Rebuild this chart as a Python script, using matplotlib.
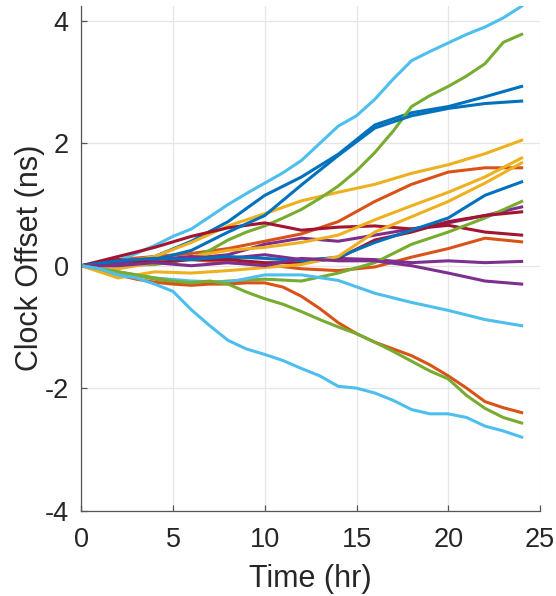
import numpy as np
import matplotlib
matplotlib.use("Agg")
import matplotlib.pyplot as plt

plt.rcParams["font.family"] = ["Liberation Sans", "DejaVu Sans"]
plt.rcParams["axes.unicode_minus"] = False

# MATLAB default colour order
colors = ["#0072BD", "#D95319", "#EDB120", "#7E2F8E", "#77AC30", "#4DBEEE", "#A2142F"]

# clock offset runs (ns); short runs are sampled every 2 h, long ones every hour
t_2h = [0, 2, 4, 6, 8, 10, 12, 14, 16, 18, 20, 22, 24]
t_1h = list(range(25))

blue_a = [0, 0.05, 0.15, 0.40, 0.72, 1.15, 1.45, 1.82, 2.30, 2.50, 2.60, 2.76, 2.93]
blue_b = [0, 0.02, 0.10, 0.25, 0.55, 0.82, 1.32, 1.80, 2.25, 2.45, 2.57, 2.65, 2.69]
blue_c = [0, 0.08, 0.12, 0.10, 0.15, 0.12, 0.08, 0.14, 0.38, 0.58, 0.78, 1.15, 1.37]
orange_a = [0, 0.10, 0.15, 0.20, 0.28, 0.40, 0.52, 0.72, 1.05, 1.33, 1.53, 1.60, 1.60]
orange_b = [0, 0.08, 0.12, 0.10, 0.05, 0.02, -0.05, -0.08, -0.02, 0.14, 0.28, 0.45, 0.39]
orange_c = [0, -0.08, -0.15, -0.22, -0.27, -0.30, -0.32, -0.30, -0.30, -0.28, -0.28, -0.35, -0.50,
            -0.70, -0.93, -1.11, -1.25, -1.36, -1.47, -1.62, -1.80, -2.00, -2.22, -2.32, -2.40]
yellow_a = [0, 0.05, 0.15, 0.38, 0.65, 0.85, 1.06, 1.20, 1.33, 1.51, 1.65, 1.83, 2.05]
yellow_b = [0, -0.05, 0.05, 0.15, 0.25, 0.30, 0.38, 0.50, 0.75, 0.98, 1.20, 1.45, 1.76]
yellow_c = [0, -0.20, -0.10, -0.12, -0.08, -0.03, 0.02, 0.15, 0.55, 0.80, 1.05, 1.35, 1.68]
purple_a = [0, 0.03, 0.08, 0.12, 0.18, 0.35, 0.45, 0.40, 0.50, 0.60, 0.70, 0.82, 0.96]
purple_b = [0, 0.05, 0.10, 0.15, 0.12, 0.18, 0.10, 0.12, 0.10, 0.05, 0.08, 0.05, 0.07]
purple_c = [0, 0.00, 0.05, 0.00, 0.05, 0.00, 0.12, 0.08, 0.08, 0.00, -0.12, -0.25, -0.30]
green_a = [0, 0.00, 0.00, 0.01, 0.02, 0.06, 0.12, 0.25, 0.42, 0.55, 0.65, 0.78, 0.92,
           1.10, 1.30, 1.55, 1.85, 2.20, 2.60, 2.78, 2.93, 3.10, 3.30, 3.65, 3.78]
green_b = [0, -0.10, -0.22, -0.30, -0.25, -0.22, -0.25, -0.12, 0.05, 0.35, 0.55, 0.78, 1.05]
green_c = [0, -0.05, -0.10, -0.15, -0.20, -0.25, -0.28, -0.25, -0.30, -0.43, -0.54, -0.63, -0.75,
           -0.88, -1.00, -1.11, -1.25, -1.40, -1.56, -1.72, -1.85, -2.12, -2.33, -2.48, -2.57]
cyan_a = [0, 0.03, 0.08, 0.20, 0.33, 0.48, 0.60, 0.80, 1.00, 1.18, 1.35, 1.52, 1.72,
          2.00, 2.28, 2.45, 2.72, 3.05, 3.35, 3.50, 3.64, 3.78, 3.90, 4.05, 4.24]
cyan_b = [0, -0.10, -0.20, -0.25, -0.27, -0.15, -0.15, -0.24, -0.45, -0.60, -0.73, -0.88, -0.98]
cyan_c = [0, -0.05, -0.15, -0.20, -0.30, -0.42, -0.72, -0.98, -1.22, -1.36, -1.45, -1.55, -1.68,
          -1.80, -1.97, -2.00, -2.08, -2.20, -2.35, -2.42, -2.42, -2.48, -2.62, -2.70, -2.80]
red_a = [0, 0.15, 0.30, 0.48, 0.62, 0.70, 0.58, 0.63, 0.65, 0.60, 0.66, 0.55, 0.50]
red_b = [0, 0.10, 0.05, 0.10, 0.10, 0.05, 0.05, 0.12, 0.42, 0.55, 0.72, 0.82, 0.88]

runs = [
    (blue_a, 0), (orange_a, 1), (yellow_a, 2), (purple_a, 3), (green_a, 4), (cyan_a, 5), (red_a, 6),
    (blue_b, 0), (orange_b, 1), (yellow_b, 2), (purple_b, 3), (green_b, 4), (cyan_b, 5), (red_b, 6),
    (blue_c, 0), (orange_c, 1), (yellow_c, 2), (purple_c, 3), (green_c, 4), (cyan_c, 5),
]

fig = plt.figure(figsize=(5.56, 5.96), dpi=100)
ax = fig.add_axes([0.1462, 0.1434, 0.825, 0.8472])

for vals, ci in runs:
    t = t_1h if len(vals) == 25 else t_2h
    ax.plot(t, vals, color=colors[ci], lw=2.2)

ax.set_xlim(0, 25)
ax.set_ylim(-4, 4.25)
ax.set_xticks([0, 5, 10, 15, 20, 25])
ax.set_yticks([-4, -2, 0, 2, 4])
ax.grid(True, color="#e6e6e6", lw=0.9)
ax.set_axisbelow(True)
for s in ["top", "right"]:
    ax.spines[s].set_visible(False)
for s in ["left", "bottom"]:
    ax.spines[s].set_color("#555555")
    ax.spines[s].set_linewidth(0.9)
ax.tick_params(direction="in", length=4, width=0.9, color="#555555",
               labelsize=19.5, labelcolor="#262626")
ax.tick_params(axis="x", pad=12)
ax.tick_params(axis="y", pad=9)
ax.set_xlabel("Time (hr)", fontsize=22, color="#262626", labelpad=8)
ax.set_ylabel("Clock Offset (ns)", fontsize=22, color="#262626", labelpad=0)

fig.savefig("out.png", dpi=100)
